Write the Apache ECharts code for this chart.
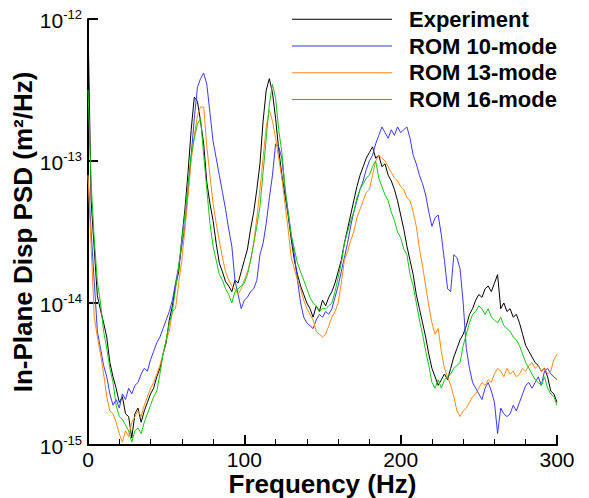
<!DOCTYPE html>
<html><head><meta charset="utf-8">
<script src="https://cdn.jsdelivr.net/npm/echarts@6/dist/echarts.min.js"></script>
<style>html,body{margin:0;padding:0;background:#fff}#c{width:589px;height:498px}</style>
</head><body><div id="c"></div>
<script>
// frequency grid (Hz), step 2
const freqStart = 0, freqStep = 2;
// log10 PSD values
const experimentLog = [-12.02,-13.28,-13.62,-13.95,-14.05,-14.14,-14.24,-14.42,-14.52,-14.6,-14.7,-14.66,-14.78,-14.8,-14.95,-14.78,-14.74,-14.84,-14.76,-14.7,-14.64,-14.6,-14.52,-14.46,-14.36,-14.28,-14.12,-14.02,-13.88,-13.78,-13.55,-13.34,-13.08,-12.78,-12.55,-12.58,-12.72,-12.88,-13.15,-13.3,-13.42,-13.58,-13.72,-13.78,-13.85,-13.88,-13.92,-13.84,-13.86,-13.78,-13.7,-13.62,-13.48,-13.36,-13.2,-13.02,-12.72,-12.5,-12.42,-12.52,-12.7,-12.92,-13.1,-13.24,-13.38,-13.55,-13.7,-13.8,-13.88,-13.94,-14.0,-14.04,-14.1,-14.02,-14.06,-13.98,-14.02,-13.96,-13.92,-13.86,-13.78,-13.7,-13.58,-13.48,-13.38,-13.28,-13.18,-13.1,-13.04,-12.98,-12.94,-12.9,-12.98,-12.96,-13.04,-13.02,-13.1,-13.14,-13.2,-13.28,-13.38,-13.48,-13.6,-13.7,-13.8,-13.94,-14.04,-14.14,-14.24,-14.36,-14.46,-14.52,-14.58,-14.54,-14.5,-14.54,-14.46,-14.38,-14.32,-14.26,-14.22,-14.16,-14.08,-14.04,-13.98,-13.94,-13.96,-13.9,-13.88,-13.92,-13.86,-13.8,-14.04,-14.0,-14.06,-14.04,-14.1,-14.08,-14.14,-14.22,-14.3,-14.34,-14.38,-14.42,-14.44,-14.48,-14.46,-14.52,-14.62,-14.64,-14.7];
const rom10Log = [-13.1,-13.5,-13.85,-14.2,-14.32,-14.44,-14.52,-14.64,-14.72,-14.68,-14.74,-14.64,-14.68,-14.6,-14.64,-14.58,-14.56,-14.5,-14.46,-14.48,-14.4,-14.34,-14.28,-14.24,-14.18,-14.12,-14.06,-13.98,-13.86,-13.74,-13.6,-13.46,-13.22,-12.96,-12.7,-12.48,-12.42,-12.38,-12.46,-12.66,-12.86,-12.98,-13.1,-13.22,-13.34,-13.48,-13.6,-13.84,-13.94,-14.04,-13.98,-13.96,-13.92,-13.9,-13.84,-13.66,-13.58,-13.44,-13.26,-13.1,-12.88,-12.9,-12.98,-13.2,-13.36,-13.52,-13.66,-13.84,-14.0,-14.1,-14.14,-14.16,-14.18,-14.12,-14.08,-14.1,-14.06,-14.08,-14.04,-13.96,-13.88,-13.78,-13.68,-13.58,-13.46,-13.36,-13.28,-13.2,-13.14,-13.06,-13.0,-12.96,-12.88,-12.82,-12.76,-12.8,-12.84,-12.78,-12.82,-12.76,-12.8,-12.78,-12.76,-12.84,-12.96,-13.02,-13.1,-13.16,-13.24,-13.36,-13.46,-13.4,-13.38,-13.52,-13.7,-13.9,-13.92,-13.66,-13.68,-13.76,-14.0,-14.32,-14.46,-14.56,-14.6,-14.64,-14.68,-14.6,-14.56,-14.62,-14.7,-14.92,-14.74,-14.78,-14.8,-14.78,-14.72,-14.76,-14.7,-14.64,-14.58,-14.56,-14.6,-14.56,-14.52,-14.58,-14.48,-14.46,-14.5,-14.52,-14.54];
const rom13Log = [-13.1,-13.6,-14.1,-14.24,-14.36,-14.5,-14.66,-14.76,-14.78,-14.84,-14.92,-14.98,-14.9,-14.94,-14.84,-14.8,-14.76,-14.8,-14.72,-14.66,-14.6,-14.56,-14.5,-14.44,-14.36,-14.26,-14.2,-14.06,-14.04,-13.86,-13.7,-13.48,-13.24,-13.0,-12.82,-12.68,-12.62,-12.62,-12.9,-13.1,-13.3,-13.44,-13.56,-13.68,-13.78,-13.84,-13.88,-13.9,-13.94,-13.9,-13.84,-13.78,-13.7,-13.58,-13.4,-13.2,-12.98,-12.76,-12.64,-12.72,-12.84,-12.98,-13.12,-13.3,-13.48,-13.68,-13.76,-13.84,-13.9,-13.98,-14.04,-14.08,-14.12,-14.2,-14.22,-14.24,-14.22,-14.16,-14.1,-14.06,-14.0,-13.86,-13.7,-13.64,-13.56,-13.5,-13.4,-13.34,-13.28,-13.22,-13.2,-13.1,-13.0,-12.96,-12.98,-13.0,-13.04,-13.08,-13.12,-13.14,-13.18,-13.2,-13.26,-13.28,-13.36,-13.46,-13.62,-13.74,-13.88,-14.02,-14.14,-14.22,-14.18,-14.34,-14.46,-14.52,-14.58,-14.66,-14.76,-14.8,-14.76,-14.74,-14.7,-14.66,-14.64,-14.6,-14.56,-14.58,-14.54,-14.56,-14.5,-14.46,-14.48,-14.52,-14.46,-14.5,-14.48,-14.52,-14.5,-14.46,-14.48,-14.44,-14.42,-14.46,-14.44,-14.48,-14.46,-14.5,-14.48,-14.4,-14.36];
const rom16Log = [-12.5,-13.15,-13.55,-13.85,-14.0,-14.2,-14.32,-14.46,-14.56,-14.72,-14.8,-14.82,-14.86,-14.9,-14.98,-14.9,-14.88,-14.92,-14.84,-14.78,-14.72,-14.66,-14.62,-14.5,-14.36,-14.26,-14.14,-14.06,-13.9,-13.74,-13.56,-13.38,-13.16,-12.96,-12.84,-12.74,-12.7,-12.96,-13.2,-13.44,-13.6,-13.7,-13.8,-13.84,-13.9,-13.94,-14.0,-13.92,-13.9,-13.88,-13.86,-13.8,-13.7,-13.58,-13.46,-13.32,-13.08,-12.84,-12.6,-12.46,-12.56,-12.78,-12.94,-13.18,-13.36,-13.52,-13.62,-13.72,-13.78,-13.84,-13.9,-13.96,-14.0,-14.02,-14.06,-14.04,-14.04,-14.02,-14.0,-13.92,-13.82,-13.72,-13.58,-13.5,-13.42,-13.36,-13.26,-13.2,-13.16,-13.12,-13.1,-13.04,-13.0,-13.12,-13.18,-13.24,-13.28,-13.36,-13.42,-13.5,-13.54,-13.62,-13.66,-13.8,-13.88,-14.0,-14.12,-14.22,-14.34,-14.44,-14.56,-14.6,-14.54,-14.6,-14.54,-14.52,-14.5,-14.46,-14.44,-14.42,-14.3,-14.22,-14.14,-14.08,-14.06,-14.02,-14.04,-14.08,-14.04,-14.1,-14.12,-14.14,-14.1,-14.16,-14.18,-14.2,-14.24,-14.26,-14.3,-14.36,-14.42,-14.46,-14.5,-14.54,-14.56,-14.58,-14.52,-14.6,-14.64,-14.66,-14.72];
const seriesNames = ['Experiment','ROM 10-mode','ROM 13-mode','ROM 16-mode'];
const seriesColors = ['#000000','#3838ff','#ff8a14','#18c418'];
const xTicks = [0,100,200,300];
const yTickExps = [-15,-14,-13,-12];

function toPairs(arr){ return arr.map((v,i)=>[freqStart+i*freqStep, Math.pow(10,v)]); }
const allLogs = [experimentLog, rom10Log, rom13Log, rom16Log];
const FONT = 'Liberation Sans, Arial, sans-serif';

const chart = echarts.init(document.getElementById('c'), null, {renderer:'svg'});
chart.setOption({
  animation:false,
  backgroundColor:'#fff',
  color:seriesColors,
  grid:{left:88,right:32,top:19,bottom:53,containLabel:false,outerBoundsMode:'none'},
  legend:{
    orient:'vertical', left:292, top:7, padding:0, itemWidth:100, itemHeight:1, itemGap:2,
    icon:'rect',
    textStyle:{fontFamily:FONT,fontWeight:'bold',fontSize:22,lineHeight:24.7,color:'#000',padding:[0,0,0,12]},
    data:seriesNames.map((n,i)=>({name:n,icon:'rect',itemStyle:{color:seriesColors[i],borderWidth:0}}))
  },
  xAxis:{
    type:'value', min:0, max:300, interval:100,
    name:'Frequency (Hz)', nameLocation:'middle', nameGap:26, nameMoveOverlap:false,
    nameTextStyle:{fontFamily:FONT,fontWeight:'bold',fontSize:26,color:'#000'},
    axisLine:{show:true,lineStyle:{color:'#000',width:2}},
    axisTick:{show:true,inside:true,length:10,lineStyle:{color:'#000',width:2}},
    minorTick:{show:true,splitNumber:5,length:6,lineStyle:{color:'#000',width:1}},
    axisLabel:{show:true,fontFamily:FONT,fontSize:21,color:'#000',margin:4,
      formatter:v=>xTicks.indexOf(v)>=0?String(v):''},
    splitLine:{show:false}, minorSplitLine:{show:false}
  },
  yAxis:{
    type:'log', logBase:10, min:1e-15, max:1e-12,
    name:'In-Plane Disp PSD (m\u00b2/Hz)', nameLocation:'middle', nameGap:52, nameMoveOverlap:false,
    nameTextStyle:{fontFamily:FONT,fontWeight:'bold',fontSize:26,color:'#000'},
    axisLine:{show:true,lineStyle:{color:'#000',width:2}},
    axisTick:{show:true,inside:true,length:10,lineStyle:{color:'#000',width:2}},
    axisLabel:{show:true,fontFamily:FONT,color:'#000',margin:6,
      formatter:v=>{const e=Math.round(Math.log10(v)); return yTickExps.indexOf(e)>=0?'{b|10}{s|'+e+'}':'';},
      rich:{b:{fontFamily:FONT,fontSize:21,color:'#000',verticalAlign:'bottom'},
            s:{fontFamily:FONT,fontSize:13,color:'#000',verticalAlign:'top',padding:[0,0,10,0]}}},
    splitLine:{show:false}
  },
  series:allLogs.map((arr,i)=>({
    name:seriesNames[i], type:'line', data:toPairs(arr), showSymbol:false, symbol:'none',
    itemStyle:{color:seriesColors[i]}, lineStyle:{color:seriesColors[i],width:1}
  }))
});
</script></body></html>
